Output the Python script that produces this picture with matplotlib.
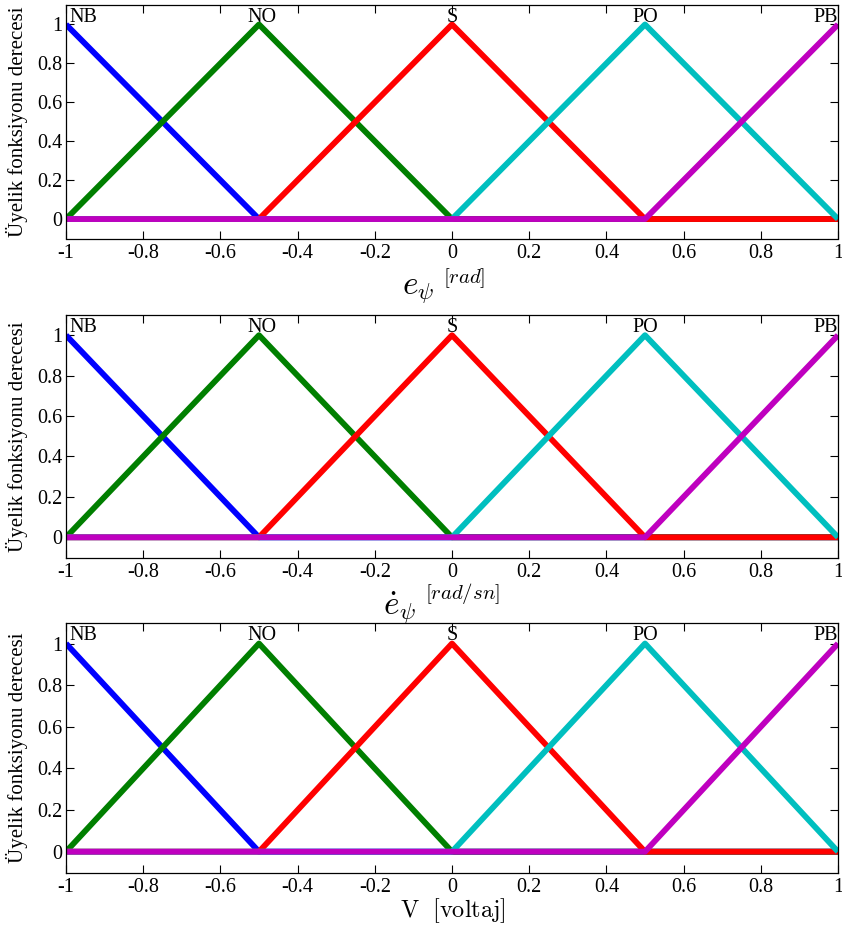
import matplotlib
matplotlib.use('Agg')
import matplotlib.pyplot as plt
from matplotlib.ticker import FuncFormatter

plt.rcParams['font.family'] = ['Liberation Serif', 'DejaVu Serif']
plt.rcParams['mathtext.fontset'] = 'cm'
plt.rcParams['axes.unicode_minus'] = False

# membership functions (same for all three panels), polyline vertices
mf_names = ['NB', 'NO', 'S', 'PO', 'PB']
mf_peaks = [-1.0, -0.5, 0.0, 0.5, 1.0]
nb_x = [-1.0, -0.5, 1.0]
nb_y = [1.0, 0.0, 0.0]
no_x = [-1.0, -0.5, 0.0, 1.0]
no_y = [0.0, 1.0, 0.0, 0.0]
s_x = [-1.0, -0.5, 0.0, 0.5, 1.0]
s_y = [0.0, 0.0, 1.0, 0.0, 0.0]
po_x = [-1.0, 0.0, 0.5, 1.0]
po_y = [0.0, 0.0, 1.0, 0.0]
pb_x = [-1.0, 0.5, 1.0]
pb_y = [0.0, 0.0, 1.0]

xticks = [-1, -0.8, -0.6, -0.4, -0.2, 0, 0.2, 0.4, 0.6, 0.8, 1]
yticks = [0, 0.2, 0.4, 0.6, 0.8, 1]
colors = ['#0000ff', '#007f00', '#ff0000', '#00bfbf', '#bf00bf']
ylab = 'Üyelik fonksiyonu derecesi'

curves = [(nb_x, nb_y), (no_x, no_y), (s_x, s_y), (po_x, po_y), (pb_x, pb_y)]

fig = plt.figure(figsize=(8.42, 9.26), dpi=100)
W, H = 842, 926
# axes boxes in pixels: top, bottom
boxes = [(5, 238.5), (315, 557.5), (622.7, 872.5)]
L, R = 66, 838

axes = []
for top, bot in boxes:
    ax = fig.add_axes([L / W, 1 - bot / H, (R - L) / W, (bot - top) / H])
    axes.append(ax)

fmt = FuncFormatter(lambda v, p: '%g' % round(v, 2))
for ax in axes:
    for (x, y), c in zip(curves, colors):
        ax.plot(x, y, color=c, lw=4.2, solid_capstyle='butt')
    ax.set_xlim(-1, 1)
    ax.set_ylim(-0.1, 1.1)
    ax.set_xticks(xticks)
    ax.set_yticks(yticks)
    ax.xaxis.set_major_formatter(fmt)
    ax.yaxis.set_major_formatter(fmt)
    ax.tick_params(direction='in', top=True, right=True, length=6, width=0.8,
                   labelsize=14.5)
    ax.tick_params(axis='x', pad=4)
    ax.tick_params(axis='y', pad=2.5)
    for sp in ax.spines.values():
        sp.set_linewidth(0.9)
    for name, pk in zip(mf_names, mf_peaks):
        ha = 'left' if pk == -1 else ('right' if pk == 1 else 'center')
        dx = 3 if pk == -1 else (3 if pk == -0.5 else 0)
        ax.annotate(name, xy=(pk, 1.015), xytext=(dx, 0), textcoords='offset pixels',
                    ha=ha, va='baseline', fontsize=14.5)
    ax.set_ylabel(ylab, fontsize=15)
    ax.yaxis.set_label_coords(-38 / (R - L), 0.5)

def lab(ax, s, dx, dy, size):
    ax.annotate(s, xy=(0.5, 0), xycoords='axes fraction', xytext=(dx, dy),
                textcoords='offset pixels', ha='left', va='baseline', fontsize=size)

lab(axes[0], r'$e_\psi$', -50, -55, 24)
lab(axes[0], r'$[rad]$', -9, -45, 15)
lab(axes[1], r'$\dot{e}_\psi$', -69, -56, 24)
lab(axes[1], r'$[rad/sn]$', -27, -41, 15)
lab(axes[2], r'$\mathrm{V\ \ [voltaj]}$', -52, -45, 17.5)

fig.savefig('out.png', dpi=100)
